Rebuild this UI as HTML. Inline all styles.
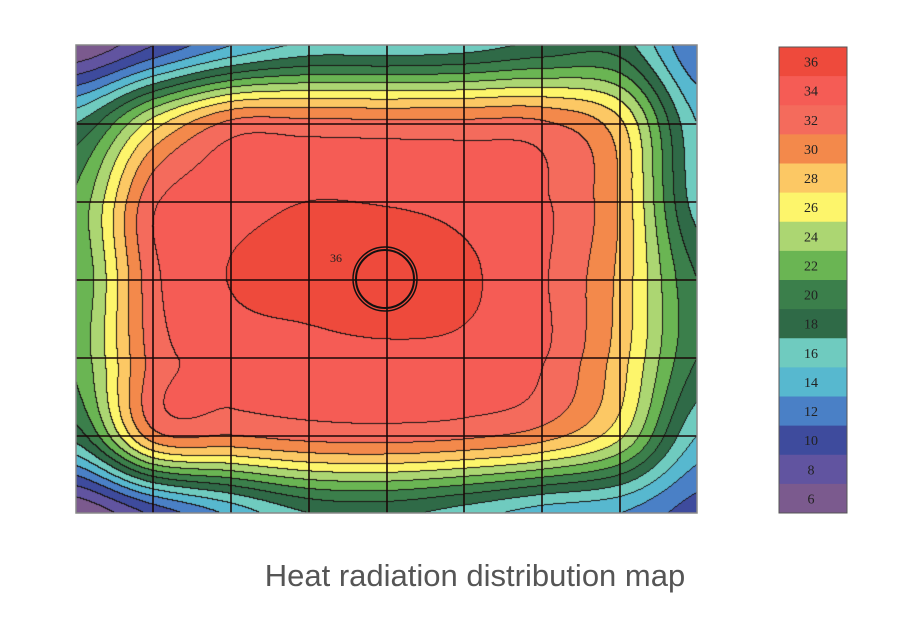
<!DOCTYPE html>
<html><head><meta charset="utf-8"><style>
body{margin:0;background:#fff;width:921px;height:641px;overflow:hidden;position:relative;font-family:"Liberation Sans",sans-serif}
#c{position:absolute;left:76px;top:45px}
svg{position:absolute;left:0;top:0}
.title{position:absolute;left:0;width:950px;top:558px;text-align:center;font-size:31px;color:#555}
</style></head><body>
<canvas id="c" width="621" height="468"></canvas>
<svg width="921" height="641">
<g stroke="#1a0808" stroke-width="1.6">
<line x1="153" y1="45" x2="153" y2="513"/><line x1="231" y1="45" x2="231" y2="513"/><line x1="309" y1="45" x2="309" y2="513"/><line x1="387" y1="45" x2="387" y2="513"/><line x1="464" y1="45" x2="464" y2="513"/><line x1="542" y1="45" x2="542" y2="513"/><line x1="620" y1="45" x2="620" y2="513"/>
<line x1="76" y1="124" x2="697" y2="124"/><line x1="76" y1="202" x2="697" y2="202"/><line x1="76" y1="280" x2="697" y2="280"/><line x1="76" y1="358" x2="697" y2="358"/><line x1="76" y1="436" x2="697" y2="436"/>
</g>
<rect x="76" y="45" width="621" height="468" fill="none" stroke="#888" stroke-width="1.5"/>
<circle cx="385" cy="279" r="29" fill="none" stroke="#111" stroke-width="2"/>
<circle cx="385" cy="279" r="32" fill="none" stroke="#111" stroke-width="1.5"/>
<text x="336" y="262" font-family="Liberation Serif,serif" font-size="12" text-anchor="middle" fill="#222">36</text>
<g id="leg"></g>
<rect x="779" y="47" width="68" height="466" fill="none" stroke="#555" stroke-width="1"/>
</svg>
<div class="title">Heat radiation distribution map</div>
<script>
const C={6:'#7b5a8e',8:'#6154a0',10:'#3e4b9d',12:'#4a80c6',14:'#57b8cf',16:'#6fcbbf',18:'#2f6a47',20:'#3b7f4b',22:'#6ab553',24:'#acd672',26:'#fdf56b',28:'#fcc864',30:'#f3894b',32:'#f46b5c',34:'#f55c55',36:'#ee4a3c'};
const G=[
[6,10,14,16.5,16.5,17,18.5,19,12],
[18,27,32.5,32.6,32.5,32.5,32.3,28.5,16],
[22.5,33.6,35,36,35.8,35.2,34.3,29.8,17],
[22,33.4,36.1,37,38,36.4,34.3,29.5,20],
[22.5,32.8,34.5,35,35.3,35.3,34.2,29,20],
[19,31.3,32,32.8,33,32.5,31,26.5,16],
[6,10.5,14.5,18,18.5,17,15,14,11]];
function cr(a,b,c,d,t){return 0.5*(2*b+(-a+c)*t+(2*a-5*b+4*c-d)*t*t+(-a+3*b-3*c+d)*t*t*t);}
function g(j,i){j=Math.max(0,Math.min(6,j));i=Math.max(0,Math.min(8,i));return G[j][i];}
function val(u,v){let i=Math.min(7,Math.floor(u)),t=u-i,j=Math.min(5,Math.floor(v)),s=v-j;
let r=[];for(let k=-1;k<3;k++)r.push(cr(g(j+k,i-1),g(j+k,i),g(j+k,i+1),g(j+k,i+2),t));
return cr(r[0],r[1],r[2],r[3],s);}
const W=621,H=468,cv=document.getElementById('c'),ctx=cv.getContext('2d'),img=ctx.createImageData(W,H);
const B=new Int8Array(W*H);
for(let y=0;y<H;y++)for(let x=0;x<W;x++){let v=val(x/77.625,y/78);let b=Math.floor(v/2)*2;b=Math.max(6,Math.min(36,b));B[y*W+x]=b;}
function hex(h){return [parseInt(h.substr(1,2),16),parseInt(h.substr(3,2),16),parseInt(h.substr(5,2),16)];}
const RGB={};for(const k in C)RGB[k]=hex(C[k]);
for(let y=0;y<H;y++)for(let x=0;x<W;x++){const p=y*W+x,b=B[p];let c=RGB[b];
let edge=(x<W-1&&B[p+1]!=b)||(y<H-1&&B[p+W]!=b);
const o=p*4;if(edge){img.data[o]=25;img.data[o+1]=20;img.data[o+2]=20;}else{img.data[o]=c[0];img.data[o+1]=c[1];img.data[o+2]=c[2];}img.data[o+3]=255;}
ctx.putImageData(img,0,0);
const leg=document.getElementById('leg');let s='';const labs=[36,34,32,30,28,26,24,22,20,18,16,14,12,10,8,6];const h=466/16;
labs.forEach((l,i)=>{const y=47+i*h;s+=`<rect x="779" y="${y}" width="68" height="${h+0.5}" fill="${C[l]}"/><text x="811" y="${y+h/2+5}" font-family="Liberation Serif,serif" font-size="14" text-anchor="middle" fill="#222">${l}</text>`;});
leg.innerHTML=s;
</script>
</body></html>
